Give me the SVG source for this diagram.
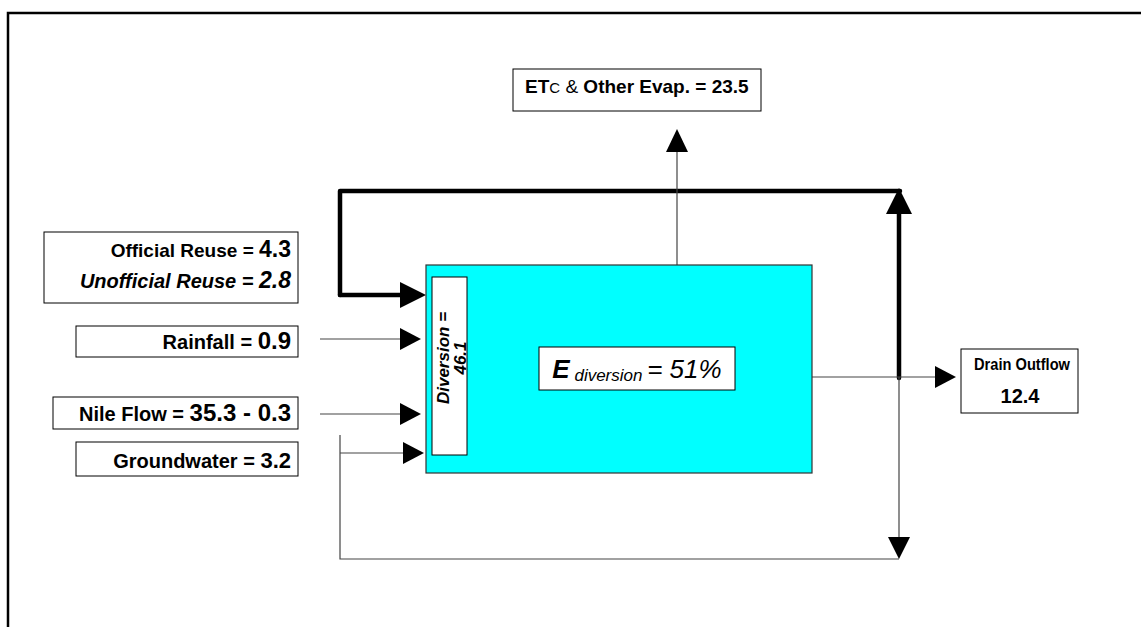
<svg xmlns="http://www.w3.org/2000/svg" width="1141" height="627" viewBox="0 0 1141 627">
<style>
.box{fill:#fff;stroke:#000;stroke-width:1}
.t{font-family:"Liberation Sans",Arial,sans-serif;font-weight:bold;fill:#000}
.thin{stroke:#444;stroke-width:1.2;fill:none}
.thick{stroke:#000;stroke-width:4.5;fill:none;stroke-linejoin:round;stroke-linecap:round}
.ah{fill:#000}
</style>
<rect width="1141" height="627" fill="#fff"/>
<path d="M8,627 V13 H1141" fill="none" stroke="#000" stroke-width="2.5"/>

<g id="connectors">
  <path class="thick" d="M340,295 V191 H900"/>
  <path class="thick" d="M340,295 H402"/>
  <polygon class="ah" points="426,295 400,282 400,308"/>
  <path class="thick" d="M899,378 V212"/>
  <polygon class="ah" points="899,188 886,214 912,214"/>
  <path class="thin" d="M677,265 V150"/>
  <polygon class="ah" points="677,129 666,152 688,152"/>
  <path class="thin" d="M320,339 H402"/>
  <polygon class="ah" points="421,339 400,328 400,350"/>
  <path class="thin" d="M320,414 H402"/>
  <polygon class="ah" points="421,414 400,403 400,425"/>
  <path class="thin" d="M340,435 V559 H899"/>
  <path class="thin" d="M340,453 H404"/>
  <polygon class="ah" points="424,453 403,442 403,464"/>
  <path class="thin" d="M812,377 H937"/>
  <polygon class="ah" points="956,377 935,366 935,388"/>
  <path class="thin" d="M899,377 V540"/>
  <polygon class="ah" points="899,559 888,537 910,537"/>
</g>

<g id="reuse">
  <rect class="box" x="44" y="232" width="254" height="71"/>
  <text class="t" x="291" y="257" text-anchor="end" font-size="19">Official Reuse = <tspan font-size="23">4.3</tspan></text>
  <text class="t" x="291" y="288" text-anchor="end" font-size="20" font-style="italic">Unofficial Reuse =  <tspan font-size="23">2.8</tspan></text>
</g>
<g id="rainfall">
  <rect class="box" x="76" y="326" width="222" height="31"/>
  <text class="t" x="291" y="349" text-anchor="end" font-size="20">Rainfall = <tspan font-size="24">0.9</tspan></text>
</g>
<g id="nile">
  <rect class="box" x="53" y="397" width="245" height="32"/>
  <text class="t" x="291" y="421" text-anchor="end" font-size="20">Nile Flow = <tspan font-size="24">35.3 - 0.3</tspan></text>
</g>
<g id="groundwater">
  <rect class="box" x="76" y="442" width="222" height="34"/>
  <text class="t" x="291" y="468" text-anchor="end" font-size="20">Groundwater = <tspan font-size="22">3.2</tspan></text>
</g>
<g id="district">
  <rect x="426" y="265" width="386" height="208" fill="#00ffff" stroke="#333" stroke-width="1.2"/>
</g>
<g id="diversion">
  <rect class="box" x="432" y="277" width="35" height="178"/>
  <text class="t" font-size="17" font-style="italic" text-anchor="middle" transform="translate(449,358) rotate(-90)"><tspan x="0" y="0">Diversion =</tspan><tspan x="0" y="17">46.1</tspan></text>
</g>
<g id="efficiency">
  <rect class="box" x="539" y="347" width="196" height="43"/>
  <text x="637" y="378" text-anchor="middle" font-family="'Liberation Sans',Arial,sans-serif" font-style="italic" fill="#000"><tspan font-size="26" font-weight="bold">E</tspan><tspan font-size="17" dy="3"> diversion </tspan><tspan font-size="26" dy="-3">= 51%</tspan></text>
</g>
<g id="etc">
  <rect class="box" x="513" y="69" width="248" height="42"/>
  <text class="t" x="525" y="93" font-size="19">ET<tspan font-weight="normal" font-size="15">C</tspan><tspan font-weight="normal"> &amp; </tspan>Other Evap. = 23.5</text>
</g>
<g id="drain">
  <rect class="box" x="961" y="349" width="117" height="64"/>
  <text class="t" x="1022" y="370" text-anchor="middle" font-size="17" textLength="96" lengthAdjust="spacingAndGlyphs">Drain Outflow</text>
  <text class="t" x="1020" y="403" text-anchor="middle" font-size="20">12.4</text>
</g>
</svg>
